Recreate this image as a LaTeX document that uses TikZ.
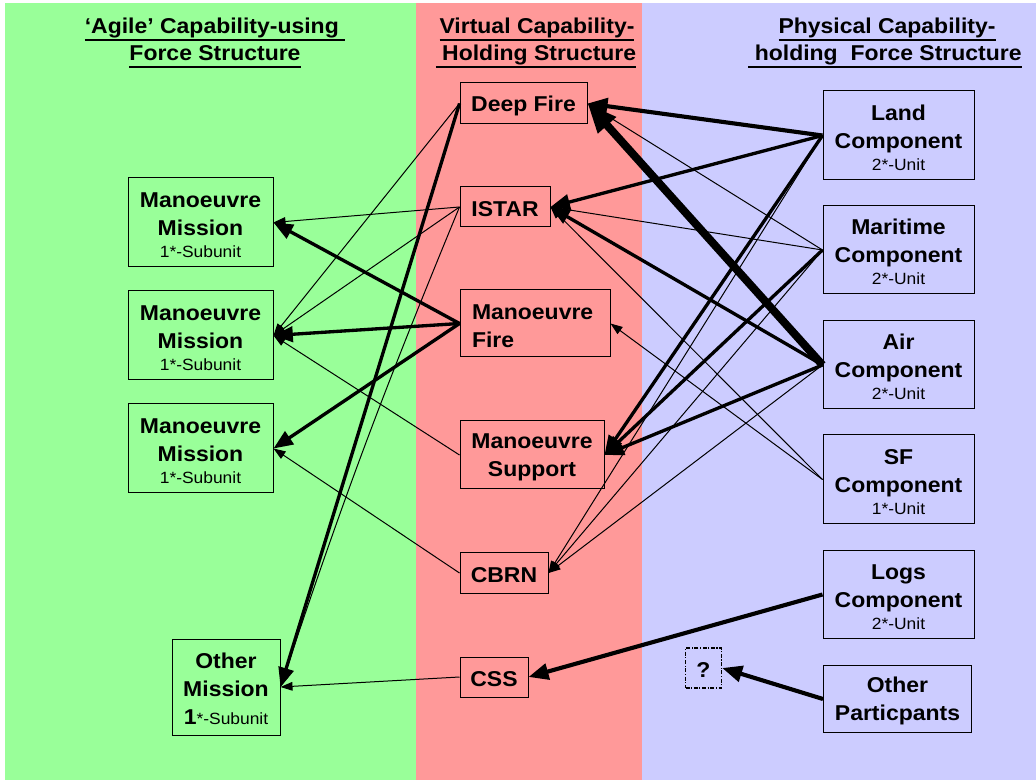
\documentclass[tikz,border=0pt]{standalone}
\usepackage{fontspec}
\setmainfont{Liberation Sans}[FakeStretch=1.07]
\usetikzlibrary{arrows.meta}

\definecolor{usingbg}{RGB}{153,255,153}
\definecolor{virtualbg}{RGB}{255,153,153}
\definecolor{holdingbg}{RGB}{204,204,255}

\newcommand\nodefont{\fontsize{16.1}{21}\selectfont\bfseries}
\newcommand\unitfont{\fontsize{12.2}{15}\selectfont\mdseries}
\newcommand\hdrfont{\fontsize{16.1}{20}\selectfont\bfseries}
% taller first line, so the text block sits a little lower in its box
\newcommand\lift{\rule{0pt}{14.8pt}}
% underlined heading line, rule drawn just under the baseline
\newcommand\hdrline[1]{\setbox0=\hbox{#1}\rlap{\rule[-5.4pt]{\wd0}{1.9pt}}\box0}

\begin{document}
\begin{tikzpicture}[x=0.75pt,y=-0.75pt,
  box/.style 2 args={draw=black, line width=0.75pt, inner sep=0pt, align=center,
     font=\nodefont, minimum width=#1*0.75pt, minimum height=#2*0.75pt},
  hdr/.style={anchor=base, inner sep=0pt, font=\hdrfont},
  flowthin/.style={line width=0.75pt, -{Triangle[length=9pt,width=6.5pt]}},
  flowthick/.style={line width=2.5pt, -{Triangle[length=14.5pt,width=11.5pt]}},
  flowheavy/.style={line width=3.1pt, -{Triangle[length=15pt,width=12pt]}},
  flowhuge/.style={line width=6pt, -{Triangle[length=22pt,width=17pt]}},
]
\useasboundingbox (0,0) rectangle (1036,780);

% column backgrounds
\fill[white] (0,0) rectangle (1036,780);
\fill[usingbg] (5,3) rectangle (416,780);
\fill[virtualbg] (416,3) rectangle (642,780);
\fill[holdingbg] (642,3) rectangle (1036,780);

% column headings
\node[hdr] (hA1) at (215,34) {\hdrline{‘Agile’ Capability-using\ }};
\node[hdr] (hA2) at (215,61) {\hdrline{Force Structure}};
\node[hdr] (hV1) at (537,34) {\hdrline{Virtual Capability-}};
\node[hdr] (hV2) at (536,61) {\hdrline{\ Holding Structure}};
\node[hdr] (hP1) at (887,34) {\hdrline{Physical Capability-}};
\node[hdr] (hP2) at (885,61) {\hdrline{\ holding\ \ Force Structure}};

% capability-using missions
\node[box={145}{89}] (mmA) at (200.5,222.5) {\lift Manoeuvre\\Mission\\[-4.7pt]{\unitfont 1*-Subunit}};
\node[box={145}{89}] (mmB) at (200.5,335.5) {\lift Manoeuvre\\Mission\\[-4.7pt]{\unitfont 1*-Subunit}};
\node[box={145}{89}] (mmC) at (200.5,448.5) {\lift Manoeuvre\\Mission\\[-4.7pt]{\unitfont 1*-Subunit}};
\node[box={108}{96}] (othm) at (226,687) {\lift Other\\Mission\\{1\unitfont*-Subunit}};

% virtual capability holdings
\node[box={127}{41}] (deep) at (523.5,103.5) {\lift Deep Fire};
\node[box={90}{40}] (istar) at (505,207) {\lift ISTAR};
\node[box={150}{67}, align=left, text width=94.5pt, inner xsep=9pt] (mfire) at (535,323.5) {\lift Manoeuvre\\Fire};
\node[box={144}{68}] (msup) at (532,455) {\lift Manoeuvre\\Support};
\node[box={88}{40}] (cbrn) at (504,573) {\lift CBRN};
\node[box={68}{40}] (css) at (494,677) {\lift CSS};

% physical force components
\node[box={151}{89}] (land) at (898.5,135.5) {\lift Land\\Component\\[-4.5pt]{\unitfont 2*-Unit}};
\node[box={151}{88}] (mari) at (898.5,250) {\lift Maritime\\Component\\[-4.5pt]{\unitfont 2*-Unit}};
\node[box={151}{88}] (air) at (898.5,365) {\lift Air\\Component\\[-4.5pt]{\unitfont 2*-Unit}};
\node[box={151}{89}] (sf) at (898.5,479.5) {\lift SF\\Component\\[-4.5pt]{\unitfont 1*-Unit}};
\node[box={151}{88}] (logs) at (898.5,594.5) {\lift Logs\\Component\\[-4.5pt]{\unitfont 2*-Unit}};
\node[box={148}{67}] (othp) at (897.5,699) {\lift Other\\Particpants};
\node[box={36}{40}, line width=1pt, dash pattern=on 3pt off 1.2pt on 0.8pt off 1.2pt] (qbox) at (703.5,668) {\lift ?};

% components feeding the virtual holdings
\draw[flowthin] (land.west) -- (cbrn.east);
\draw[flowthin] (mari.west) -- (deep.east);
\draw[flowthin] (mari.west) -- (istar.east);
\draw[flowthin] (mari.west) -- (cbrn.east);
\draw[flowthin] (air.west) -- (cbrn.east);
\draw[flowthin] (sf.west) -- (istar.east);
\draw[flowthin] (sf.west) -- (mfire.east);
\draw[flowthick] (land.west) -- (istar.east);
\draw[flowthick] (land.west) -- (msup.east);
\draw[flowthick] (mari.west) -- (msup.east);
\draw[flowthick] (air.west) -- (istar.east);
\draw[flowthick] (air.west) -- (msup.east);
\draw[flowheavy] (land.west) -- (deep.east);
\draw[flowhuge] (air.west) -- (deep.east);
\draw[flowheavy] (logs.west) -- (css.east);
\draw[flowheavy] (othp.west) -- (qbox.east);

% virtual holdings supplying the missions
\draw[flowthin] (istar.west) -- (mmA.east);
\draw[flowthin] (istar.west) -- (mmB.east);
\draw[flowthin] (istar.west) to[bend right=2] (othm.east);
\draw[flowthin] (deep.west) -- (mmB.east);
\draw[flowthin] (msup.west) -- (mmB.east);
\draw[flowthin] (cbrn.west) -- (mmC.east);
\draw[flowthin] (css.west) -- (othm.east);
\draw[flowthick] (deep.west) -- (othm.east);
\draw[flowthick] (mfire.west) -- (mmA.east);
\draw[flowthick] (mfire.west) -- (mmB.east);
\draw[flowthick] (mfire.west) -- (mmC.east);
\end{tikzpicture}
\end{document}
